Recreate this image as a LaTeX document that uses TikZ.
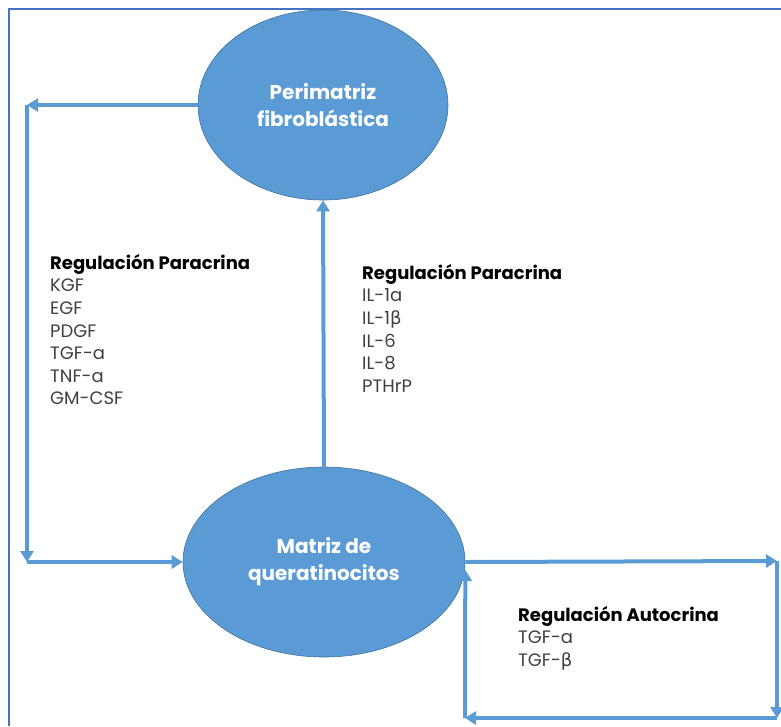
\documentclass[tikz,border=0pt]{standalone}
\usepackage{fontspec}
\setmainfont{Poppins}
\newfontfamily\grk{DejaVu Sans}
\usepackage{tikz}
\usetikzlibrary{shapes.geometric,arrows.meta,positioning,calc}
\definecolor{celeste}{HTML}{5B9BD5}
\definecolor{bordeazul}{HTML}{41719C}
\definecolor{marco}{HTML}{4472C4}
\definecolor{gristexto}{HTML}{404040}
\tikzset{
	celula/.style={ellipse,fill=celeste,draw=bordeazul,line width=0.6pt,inner sep=0pt,text=white,font=\fontsize{20}{27}\selectfont\bfseries,align=center},
	flecha/.style={-{Triangle[width=13pt,length=11pt]},line width=4pt,draw=celeste},
	lista/.style={anchor=north west,align=left,inner sep=0pt,text=gristexto,font=\fontsize{18}{22.6}\selectfont}
}
\begin{document}
\begin{tikzpicture}[x=1pt,y=-1pt]
	\useasboundingbox (0,0) rectangle (781,726);
	\draw[marco,line width=1.5pt] (9,726) -- (9,9) -- (781,9);
	% celulas
	\node[celula,minimum width=250,minimum height=190] (peri) at (323,105) {Perimatriz\\fibroblástica};
	\node[celula,minimum width=282,minimum height=190] (matriz) at (324,562) {Matriz de\\queratinocitos};
	% esquinas
	\coordinate (izqA) at (27,105);
	\coordinate (izqB) at (27,562);
	\coordinate (derA) at (777,561);
	\coordinate (derB) at (777,718);
	\coordinate (derC) at (465,718);
	\coordinate (derD) at ($(matriz.east)+(0,8)$);
	% paracrina izquierda
	\draw[flecha] (peri.west) -- (izqA);
	\draw[flecha] (izqA) -- (izqB);
	\draw[flecha] (izqB) -- (matriz.west);
	% paracrina centro
	\draw[flecha] (matriz.north) -- (peri.south);
	% autocrina
	\draw[flecha] (matriz.east) -- (derA);
	\draw[flecha] (derA) -- (derB);
	\draw[flecha] (derB) -- (derC);
	\draw[flecha] (derC) -- (derD);
	% textos
	\node[lista] (paraIzq) at (50,254) {\textcolor{black}{\bfseries Regulación Paracrina}\\KGF\\EGF\\PDGF\\TGF-a\\TNF-a\\GM-CSF};
	\node[lista] (paraCen) at (362,264) {\textcolor{black}{\bfseries Regulación Paracrina}\\IL-1a\\IL-1{\grk β}\\IL-6\\IL-8\\PTHrP};
	\node[lista] (auto) at (518,606) {\textcolor{black}{\bfseries Regulación Autocrina}\\TGF-a\\TGF-{\grk β}};
\end{tikzpicture}
\end{document}
